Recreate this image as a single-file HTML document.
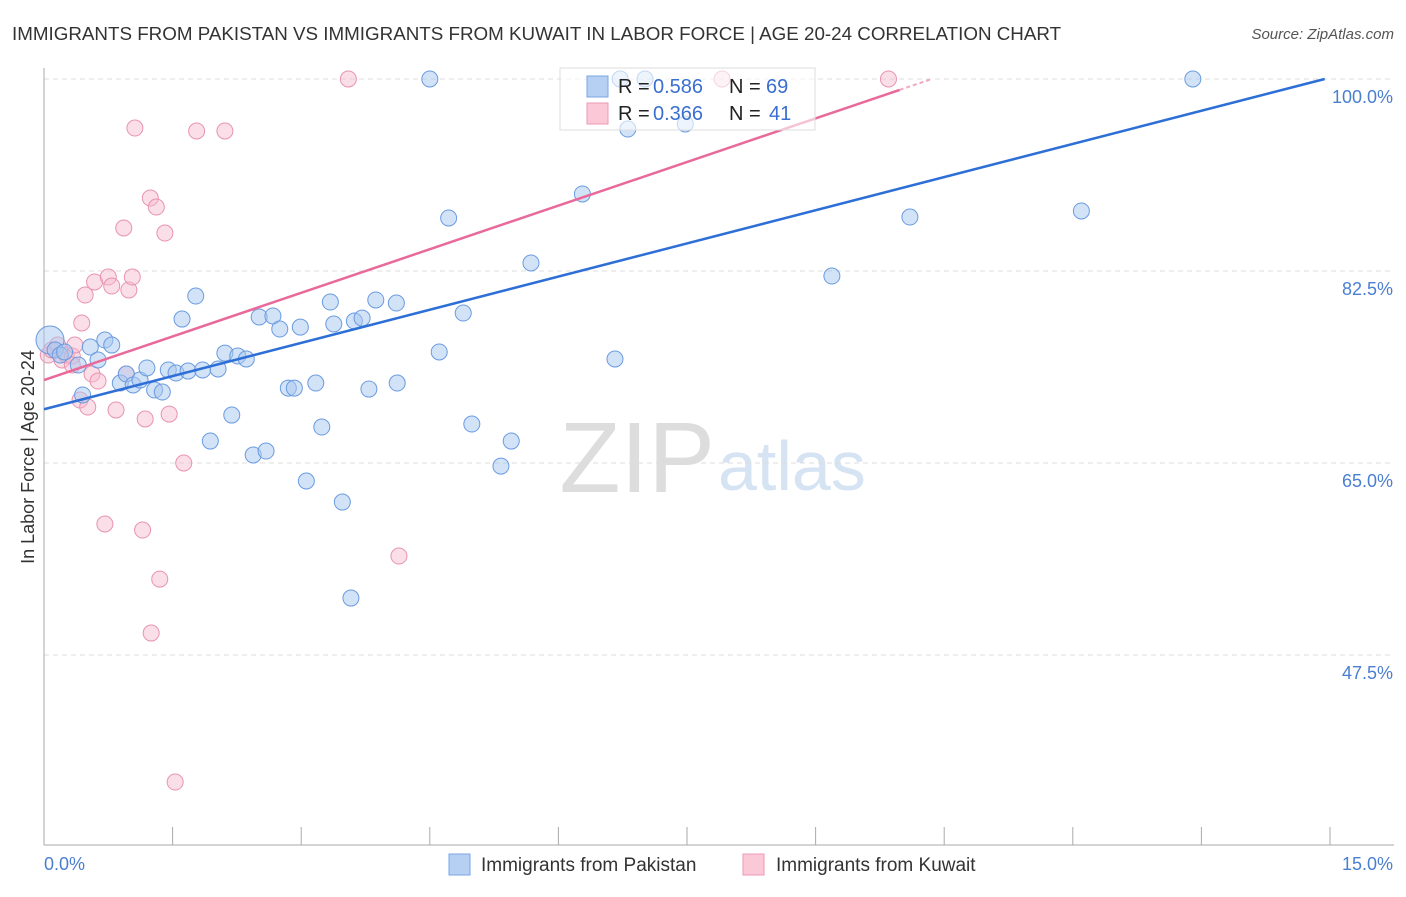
<!DOCTYPE html>
<html><head><meta charset="utf-8"><style>
body{margin:0;background:#fff;font-family:"Liberation Sans",sans-serif}
svg text{font-family:"Liberation Sans",sans-serif}
</style></head><body>
<svg id="chart" width="1406" height="892" xmlns="http://www.w3.org/2000/svg">
<text x="12" y="40" font-size="18.8" fill="#333">IMMIGRANTS FROM PAKISTAN VS IMMIGRANTS FROM KUWAIT IN LABOR FORCE | AGE 20-24 CORRELATION CHART</text>
<text x="1394" y="39" font-size="15" fill="#555" text-anchor="end" font-style="italic">Source: ZipAtlas.com</text>
<text x="715" y="492" font-size="100" fill="#ddd" text-anchor="end" font-family="Liberation Serif">ZIP</text>
<text x="718" y="490" font-size="70" fill="#d5e3f3">atlas</text>
<g id="grid"></g><g id="axes"></g><g id="pts"></g><g id="lines"></g>
<text transform="translate(34,457) rotate(-90)" font-size="18" fill="#333" text-anchor="middle">In Labor Force | Age 20-24</text>
<text x="44" y="870" font-size="18" fill="#4a7fd0">0.0%</text>
<text x="1393" y="870" font-size="18" fill="#4a7fd0" text-anchor="end">15.0%</text>
<g>
<rect x="560" y="68" width="255" height="62" fill="#fff" fill-opacity="0.6" stroke="#ddd"/>
<rect x="587" y="76" width="21" height="21" fill="#b5d0f3" stroke="#7aa6e6"/>
<rect x="587" y="103" width="21" height="21" fill="#fac8d6" stroke="#ee9ab5"/>
<text x="618" y="93" font-size="20" fill="#222">R = </text><text x="653" y="93" font-size="20" fill="#3a6fd0">0.586</text>
<text x="729" y="93" font-size="20" fill="#222">N = </text><text x="766" y="93" font-size="20" fill="#3a6fd0">69</text>
<text x="618" y="120" font-size="20" fill="#222">R = </text><text x="653" y="120" font-size="20" fill="#3a6fd0">0.366</text>
<text x="729" y="120" font-size="20" fill="#222">N = </text><text x="769" y="120" font-size="20" fill="#3a6fd0">41</text>
</g>
<g>
<rect x="449" y="854" width="21" height="21" fill="#b5d0f3" stroke="#7aa6e6"/>
<text x="481" y="871" font-size="19" fill="#333">Immigrants from Pakistan</text>
<rect x="743" y="854" width="21" height="21" fill="#fac8d6" stroke="#ee9ab5"/>
<text x="776" y="871" font-size="19" fill="#333">Immigrants from Kuwait</text>
</g>
</svg>
<script>
const yTicks=[100,82.5,65,47.5];
const xTicks=[0,1.5,3,4.5,6,7.5,9,10.5,12,13.5,15];
const blueX=[.07,.13,.19,.24,.40,.45,.54,.63,.71,.79,.89,.96,1.04,1.12,1.20,1.29,1.38,1.45,1.54,1.61,1.68,1.77,1.85,1.94,2.03,2.11,2.19,2.26,2.36,2.44,2.51,2.59,2.67,2.75,2.85,2.92,2.99,3.06,3.17,3.24,3.34,3.38,3.48,3.58,3.62,3.71,3.79,3.87,4.11,4.12,4.50,4.61,4.72,4.89,4.99,5.33,5.45,5.68,6.28,6.66,6.72,6.81,7.01,7.48,9.19,10.10,12.10,13.40];
const blueY=[76.21,75.30,74.84,75.12,73.93,71.20,75.57,74.39,76.21,75.75,72.29,73.11,72.11,72.56,73.66,71.65,71.47,73.48,73.20,78.12,73.38,80.22,73.48,67.00,73.57,75.02,69.37,74.75,74.48,65.73,78.31,66.09,78.40,77.21,71.83,71.83,77.39,63.36,72.29,68.28,79.67,77.67,61.44,52.69,77.94,78.21,71.74,79.86,79.58,72.29,100,75.12,87.33,78.67,68.55,64.72,67.00,83.23,89.52,74.48,100,95.44,100,95.90,82.04,87.42,87.97,100];
const pinkX=[.05,.09,.16,.21,.26,.33,.36,.42,.44,.48,.51,.56,.59,.63,.71,.75,.79,.84,.93,.96,.99,1.03,1.06,1.15,1.18,1.24,1.25,1.31,1.35,1.41,1.46,1.63,1.78,2.11,3.55,4.14,1.53,7.91,9.85,.33];
const pinkY=[74.84,75.30,75.75,74.39,74.84,74.75,75.75,70.74,77.76,80.31,70.10,73.11,81.50,72.47,59.44,81.95,81.13,69.83,86.42,73.11,80.77,81.95,95.53,58.89,69.01,89.15,49.50,88.33,54.42,85.96,69.46,65.00,95.26,95.26,100,56.52,35.92,100,100,73.93];
const blueLine=[69.9,2.015];
const pinkLine=[72.56,2.65];
const NS='http://www.w3.org/2000/svg';
const sx=v=>44+v/15*1286, sy=v=>79+(100-v)/17.5*192;
function mk(p,t,a){const e=document.createElementNS(NS,t);for(const k in a)e.setAttribute(k,a[k]);p.appendChild(e);return e;}
const grid=document.getElementById('grid'),axes=document.getElementById('axes'),pts=document.getElementById('pts'),lines=document.getElementById('lines');
yTicks.forEach(v=>{
 const l=mk(grid,'line',{x1:44,x2:1394,y1:sy(v),y2:sy(v),stroke:'#ddd','stroke-dasharray':'5,4'});
 
 
 const t=mk(grid,'text',{x:1393,y:sy(v)+24,'font-size':18,fill:'#4a7fd0','text-anchor':'end'});t.textContent=v.toFixed(1)+'%';
 
 
});
const ya=mk(axes,'line',{x1:44,x2:44,y1:68,y2:845,stroke:'#aaa'});


const xa=mk(axes,'line',{x1:44,x2:1394,y1:845,y2:845,stroke:'#aaa'});


xTicks.forEach(v=>{const t=mk(axes,'line',{x1:sx(v),x2:sx(v),y1:827,y2:845,stroke:'#aaa'});
 
 });
pinkX.forEach((x,i)=>{const c=mk(pts,'circle',{cx:sx(x),cy:sy(pinkY[i]),r:8,fill:'#f6b8cb','fill-opacity':0.45,stroke:'#e893b0','stroke-width':1});
 
 });
blueX.forEach((x,i)=>{const c=mk(pts,'circle',{cx:sx(x),cy:sy(blueY[i]),r:i==0?14:8,fill:'#a8c8f0','fill-opacity':0.5,stroke:'#6a9be0','stroke-width':1});
 
 });
const bEnd=(100-blueLine[0])/blueLine[1];
const bl=mk(lines,'line',{x1:sx(0),y1:sy(blueLine[0]),x2:sx(bEnd),y2:sy(100),stroke:'#2d6fd6','stroke-width':2.5});


const pMid=9.98,pEnd=(100-pinkLine[0])/pinkLine[1];
const pl=mk(lines,'line',{x1:sx(0),y1:sy(pinkLine[0]),x2:sx(pMid),y2:sy(pinkLine[0]+pinkLine[1]*pMid),stroke:'#e8699a','stroke-width':2.5});


const pd=mk(lines,'line',{x1:sx(pMid),y1:sy(pinkLine[0]+pinkLine[1]*pMid),x2:sx(pEnd),y2:sy(100),stroke:'#f0a8c2','stroke-width':2,'stroke-dasharray':'4,3'});


</script>
</body></html>
